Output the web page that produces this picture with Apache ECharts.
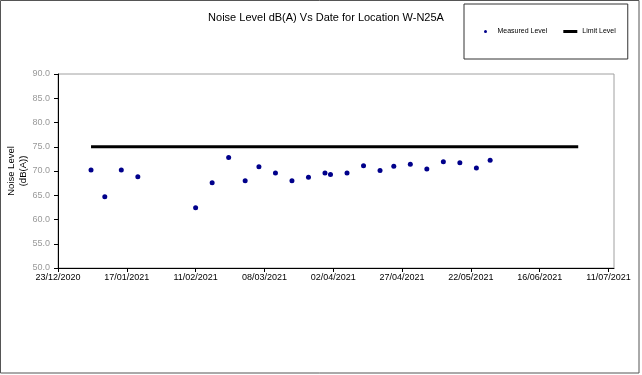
<!DOCTYPE html>
<html>
<head>
<meta charset="utf-8">
<script src="https://cdn.jsdelivr.net/npm/echarts@6/dist/echarts.min.js"></script>
<style>
html,body{margin:0;padding:0;background:#fff;}
#c{width:642px;height:375px;}
</style>
</head>
<body>
<div id="c"></div>
<script>
// ---- data ----
var measuredDates = ['2021-01-04','2021-01-09','2021-01-15','2021-01-21','2021-02-11','2021-02-17','2021-02-23','2021-03-01','2021-03-06','2021-03-12','2021-03-18','2021-03-24','2021-03-30','2021-04-01','2021-04-07','2021-04-13','2021-04-19','2021-04-24','2021-04-30','2021-05-06','2021-05-12','2021-05-18','2021-05-24','2021-05-29'];
var measuredLevels = [70.2,64.7,70.2,68.8,62.4,67.6,72.8,68.0,70.9,69.6,68.0,68.7,69.6,69.3,69.6,71.1,70.1,71.0,71.4,70.4,71.9,71.7,70.6,72.2];
var limitDates = ['2021-01-04','2021-06-30'];
var limitLevels = [75,75];
var xTickLabels = ['23/12/2020','17/01/2021','11/02/2021','08/03/2021','02/04/2021','27/04/2021','22/05/2021','16/06/2021','11/07/2021'];
var yMin = 50, yMax = 90, yStep = 5;

var DAY = 86400000;
var origin = Date.UTC(2020,11,23);
function toDay(s){var p=s.split('-');return (Date.UTC(+p[0],+p[1]-1,+p[2])-origin)/DAY;}
var tickDays = xTickLabels.map(function(s){var p=s.split('/');return (Date.UTC(+p[2],+p[1]-1,+p[0])-origin)/DAY;});
function fmt(d){var t=new Date(origin+d*DAY);function z(n){return (n<10?'0':'')+n;}return z(t.getUTCDate())+'/'+z(t.getUTCMonth()+1)+'/'+t.getUTCFullYear();}

var chart = echarts.init(document.getElementById('c'), null, {renderer:'canvas'});
chart.setOption({
  animation:false,
  backgroundColor:'#fff',
  title:{text:'Noise Level dB(A) Vs Date for Location W-N25A',left:321,top:7,textAlign:'center',
    textStyle:{fontFamily:'Liberation Sans, Arial, sans-serif',fontSize:11,fontWeight:'normal',color:'#000'}},
  legend:{left:464,top:4,orient:'horizontal',padding:[24,12,24,20],itemGap:16,itemWidth:14,itemHeight:3,itemTextGap:2,
    borderColor:'#333',borderWidth:1,
    textStyle:{fontFamily:'Liberation Sans, Arial, sans-serif',fontSize:7,color:'#000'},
    data:[{name:'Measured Level',icon:'circle'},{name:'Limit Level',icon:'rect'}]},
  grid:{left:58,right:28,top:74,bottom:107,containLabel:false,outerBoundsMode:'none',show:true,borderColor:'#a0a0a0',borderWidth:1,backgroundColor:'transparent'},
  xAxis:{type:'value',min:0,max:202,
    axisLine:{show:true,onZero:false,lineStyle:{color:'#000',width:1}},
    axisTick:{show:true,length:4,inside:false,customValues:tickDays,lineStyle:{color:'#000'}},
    axisLabel:{customValues:tickDays,formatter:function(v){return fmt(v);},margin:5,
      fontFamily:'Liberation Sans, Arial, sans-serif',fontSize:9,color:'#000'},
    splitLine:{show:false}},
  yAxis:{type:'value',min:yMin,max:yMax,interval:yStep,
    name:'Noise Level\n(dB(A))',nameLocation:'middle',nameGap:29,nameRotate:90,nameMoveOverlap:false,
    nameTextStyle:{fontFamily:'Liberation Sans, Arial, sans-serif',fontSize:9.5,color:'#000',lineHeight:12,align:'center'},
    axisLine:{show:true,lineStyle:{color:'#000',width:1}},
    axisTick:{show:true,length:4,inside:false,lineStyle:{color:'#000'}},
    axisLabel:{formatter:function(v){return v.toFixed(1);},margin:8,
      fontFamily:'Liberation Sans, Arial, sans-serif',fontSize:9,color:'#999'},
    splitLine:{show:false}},
  graphic:[{type:'rect',shape:{x:0.5,y:0.5,width:638.5,height:372.5},style:{fill:'none',stroke:'#555',lineWidth:1},silent:true}],
  series:[
    {name:'Measured Level',type:'scatter',symbol:'circle',symbolSize:5,
      itemStyle:{color:'#00008b',opacity:1},
      data:measuredDates.map(function(d,i){return [toDay(d),measuredLevels[i]];})},
    {name:'Limit Level',type:'line',symbol:'none',showSymbol:false,
      lineStyle:{color:'#000',width:3},itemStyle:{color:'#000'},
      data:limitDates.map(function(d,i){return [toDay(d),limitLevels[i]];})}
  ]
});
</script>
</body>
</html>
